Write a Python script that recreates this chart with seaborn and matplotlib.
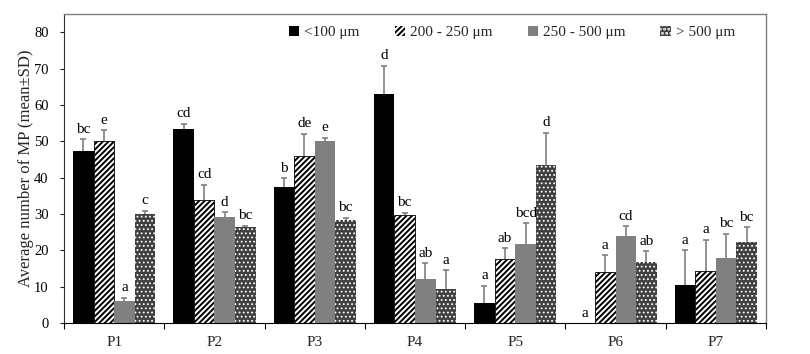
import numpy as np
import pandas as pd
import matplotlib
matplotlib.use('Agg')
import matplotlib.pyplot as plt
from matplotlib.patches import Patch
from matplotlib.ticker import FixedLocator
import seaborn as sns

# Données
sites = ['P1', 'P2', 'P3', 'P4', 'P5', 'P6', 'P7']
size_classes = ['<100 \u03bcm', '200 - 250 \u03bcm', '250 - 500 \u03bcm', '> 500 \u03bcm']

mean_lt100 = [47.4, 53.4, 37.4, 63.1, 5.4, 0.0, 10.4]
sd_lt100 = [3.1, 1.4, 2.4, 7.7, 4.9, 0.0, 9.6]
mean_200_250 = [50.0, 33.9, 45.9, 29.8, 17.6, 13.9, 14.3]
sd_200_250 = [3.0, 4.1, 6.1, 0.5, 3.0, 4.7, 8.6]
mean_250_500 = [6.0, 29.2, 50.0, 12.2, 21.7, 23.9, 18.0]
sd_250_500 = [1.0, 1.2, 0.9, 4.3, 5.8, 2.7, 6.6]
mean_gt500 = [29.9, 26.4, 28.2, 9.3, 43.6, 16.9, 22.3]
sd_gt500 = [1.0, 0.4, 0.8, 5.2, 8.8, 2.8, 4.1]

letters_lt100 = ['bc', 'cd', 'b', 'd', 'a', 'a', 'a']
letters_200_250 = ['e', 'cd', 'de', 'bc', 'ab', 'a', 'a']
letters_250_500 = ['a', 'd', 'e', 'ab', 'bcd', 'cd', 'bc']
letters_gt500 = ['c', 'bc', 'bc', 'a', 'd', 'ab', 'bc']

means = [mean_lt100, mean_200_250, mean_250_500, mean_gt500]
sds = [sd_lt100, sd_200_250, sd_250_500, sd_gt500]
letters = [letters_lt100, letters_200_250, letters_250_500, letters_gt500]

# Mise en forme longue pour seaborn
rows = []
for cls, m in zip(size_classes, means):
    for site, v in zip(sites, m):
        rows.append({'site': site, 'classe': cls, 'moyenne': v})
df = pd.DataFrame(rows)

sns.set_style('ticks')
plt.rcParams['font.family'] = ['Liberation Serif', 'DejaVu Serif']
plt.rcParams['hatch.linewidth'] = 1.4

face_colors = ['#000000', '#ffffff', '#808080', '#404040']
edge_colors = ['#000000', '#000000', '#808080', '#ffffff']
hatches = [None, '//////', None, '....']
hatch_lw = [1.0, 1.4, 1.0, 0.8]
line_widths = [0, 0.6, 0, 0]


def style_patch(p, k):
    p.set_facecolor(face_colors[k])
    p.set_edgecolor(edge_colors[k])
    p.set_linewidth(line_widths[k])
    if hatches[k]:
        p.set_hatch(hatches[k])
        if hasattr(p, 'set_hatch_linewidth'):
            p.set_hatch_linewidth(hatch_lw[k])


fig = plt.figure(figsize=(8.1, 3.54), dpi=100)
ax = fig.add_axes([64 / 810, 1 - 323 / 354, (766 - 64) / 810, (323 - 14) / 354])

sns.barplot(data=df, x='site', y='moyenne', hue='classe', order=sites,
            hue_order=size_classes, palette=face_colors, width=0.82,
            errorbar=None, legend=False, ax=ax)

bar_groups = list(ax.containers)
for k, cont in enumerate(bar_groups):
    xs, tops = [], []
    for bar in cont:
        style_patch(bar, k)
        xs.append(bar.get_x() + bar.get_width() / 2)
        tops.append(bar.get_height())
    xs = np.array(xs)
    tops = np.array(tops)
    sd = np.array(sds[k])
    has = sd > 0
    eb = ax.errorbar(xs[has], tops[has], yerr=[np.zeros(has.sum()), sd[has]],
                     fmt='none', ecolor='#808080', elinewidth=1.2, capsize=2.5,
                     capthick=1.2, zorder=0.8)
    # garder seulement le chapeau du haut
    for cap in eb.lines[1]:
        if np.allclose(cap.get_ydata(), tops[has]):
            cap.set_visible(False)
    for x, t, s, lab in zip(xs, tops, sd, letters[k]):
        ax.annotate(lab, (x, t + s), xytext=(0, 2.5), textcoords='offset points',
                    ha='center', va='bottom', fontsize=11, color='black')

ax.set_xlim(-0.5, 6.5)
ax.set_ylim(0, 85)
ax.set_yticks(np.arange(0, 81, 10))
ax.tick_params(axis='y', direction='out', length=3, width=0.8, pad=8,
               labelsize=10.5, colors='#222222', labelcolor='black')
ax.xaxis.set_minor_locator(FixedLocator(np.arange(-0.5, 7, 1)))
ax.tick_params(axis='x', which='major', length=0, pad=9, labelsize=11)
ax.tick_params(axis='x', which='minor', direction='out', length=4, width=0.8,
               color='black')
ax.set_xlabel('')
ax.set_ylabel('Average number of MP (mean\u00b1SD)', fontsize=12, labelpad=0)

for side in ['top', 'right']:
    ax.spines[side].set_visible(True)
    ax.spines[side].set_color('#7f7f7f')
    ax.spines[side].set_linewidth(1.0)
ax.spines['left'].set_color('#333333')
ax.spines['bottom'].set_color('black')

handles = []
for k in range(4):
    h = Patch(label=size_classes[k])
    style_patch(h, k)
    h.set_linewidth(0)
    handles.append(h)
ax.legend(handles=handles, loc='center', bbox_to_anchor=(0.638, 0.94),
          ncol=4, frameon=False, fontsize=11, handlelength=0.7,
          handleheight=0.7, handletextpad=0.3, columnspacing=2.3)

fig.savefig('out.png', dpi=100)
